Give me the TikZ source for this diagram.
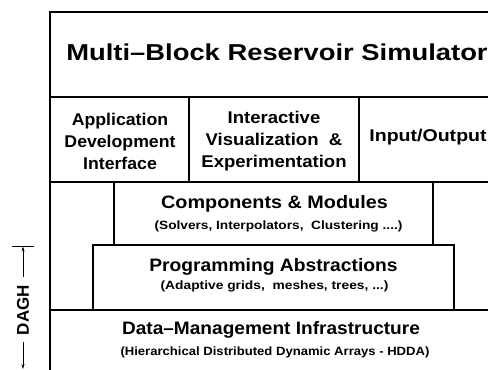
\documentclass[tikz,border=0pt]{standalone}
\usepackage{fontspec}
\setmainfont{Liberation Sans}
\usepackage{graphicx}
\usetikzlibrary{arrows.meta}
% horizontally widened text
\newcommand\hs[2]{\scalebox{#1}[1]{#2}}
\begin{document}
\begin{tikzpicture}[x=1pt,y=-1pt,
  frame/.style={line width=2.4pt, line join=miter},
  big/.style={font=\bfseries\fontsize{18}{22}\selectfont, inner sep=0pt},
  mid/.style={font=\bfseries\fontsize{17}{22}\selectfont, inner sep=0pt, align=center},
  small/.style={font=\bfseries\fontsize{12}{14}\selectfont, inner sep=0pt},
  dim/.style={line width=0.7pt},
  dimarrow/.style={dim, -{Stealth[length=5pt,width=3pt]}}]
\useasboundingbox (0,0) rectangle (488,370);
\clip (0,0) rectangle (488,370);

% layered frame
\draw[frame] (50,12) rectangle (530,400);
\draw[frame] (50,97) -- (530,97);
\draw[frame] (50,182) -- (530,182);
\draw[frame] (189,97) -- (189,182);
\draw[frame] (359,97) -- (359,182);
\draw[frame] (114,182) rectangle (433,245);
\draw[frame] (93,245) rectangle (454,310);
\draw[frame] (50,310) -- (530,310);

% layer texts
\node[inner sep=0pt, font=\bfseries\fontsize{23}{26}\selectfont, anchor=base] (title) at (277,60)
  {\hs{1.19}{Multi–Block Reservoir Simulator}};
\node[mid] (adi) at (120,141)
  {\hs{1.04}{Application}\\\hs{1.04}{Development}\\\hs{1.04}{Interface}};
\node[mid] (ive) at (274,141)
  {\hs{1.09}{Interactive}\\\hs{1.09}{Visualization \ \&}\\\hs{1.09}{Experimentation}};
\node[mid] (io) at (428,137) {\hs{1.15}{Input/Output}};

\node[big] (comp) at (274.5,204) {\hs{1.10}{Components \& Modules}};
\node[small] (compsub) at (278.5,226) {\hs{1.14}{(Solvers, Interpolators, \ Clustering ....)}};
\node[big] (prog) at (273.5,267) {\hs{1.07}{Programming Abstractions}};
\node[small] (progsub) at (274.5,286) {\hs{1.15}{(Adaptive grids, \ meshes, trees, ...)}};
\node[big] (data) at (271,330) {\hs{1.06}{Data–Management Infrastructure}};
\node[small] (datasub) at (275,352) {\hs{1.09}{(Hierarchical Distributed Dynamic Arrays - HDDA)}};

% DAGH extent marker
\coordinate (tickl) at (12,246);
\coordinate (tickr) at (34,246);
\coordinate (dtop) at (23,246.5);
\coordinate (dupper) at (23,277);
\coordinate (dlower) at (23,342);
\coordinate (dbot) at (23,369);
\node[font=\bfseries\fontsize{17}{20}\selectfont, inner sep=0pt, rotate=90] (dagh) at (23,310) {DAGH};
\draw[dim] (tickl) -- (tickr);
\draw[dimarrow] (dupper) -- (dtop);
\draw[dimarrow] (dlower) -- (dbot);
\end{tikzpicture}
\end{document}
